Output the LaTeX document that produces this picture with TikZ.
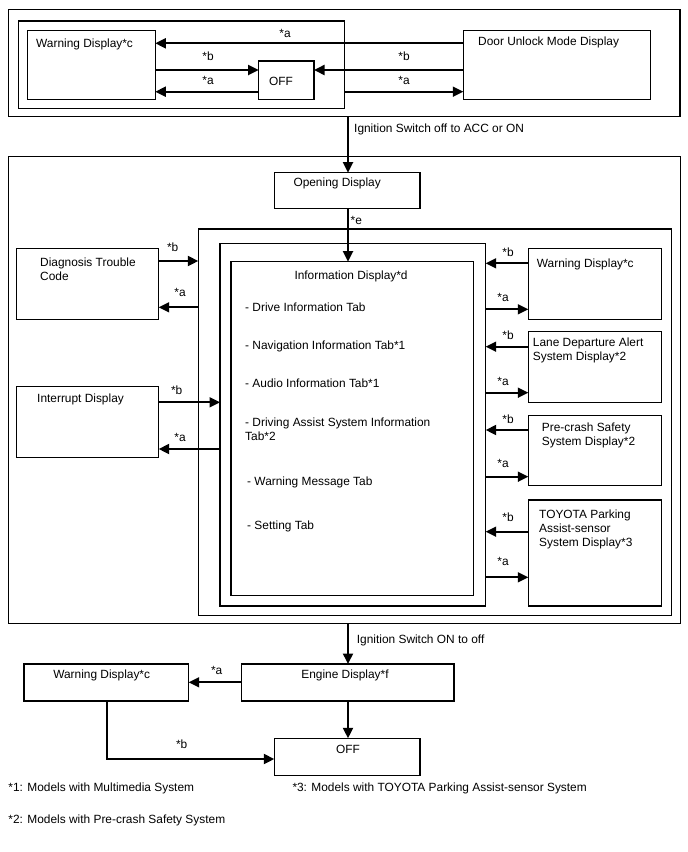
\documentclass[tikz,border=0pt]{standalone}
\usepackage{fontspec}
\setmainfont{Liberation Sans}
\usetikzlibrary{arrows.meta,positioning}
\newcommand\figfont{\fontsize{11.9pt}{14pt}\selectfont}

\begin{document}
\begin{tikzpicture}[x=1pt, y=-1pt, >={Triangle[length=10.5pt,width=10pt]},
  box/.style={draw, line width=1.2pt, inner sep=0pt, outer sep=0pt, anchor=north west},
  flow/.style={->, line width=1.9pt},
  txt/.style={inner sep=0pt, anchor=base west, font=\figfont},
  mtxt/.style={inner sep=0pt, anchor=north west, align=left, font=\figfont},
  lbl/.style={inner sep=0pt, anchor=base, font=\figfont}]

\useasboundingbox (0,0) rectangle (688,852);

% ------------------ TOP: door unlock group ------------------
\node[box, minimum width=671.7pt, minimum height=107.4pt] (topOuter) at (8.3,9.3) {};
\node[box, minimum width=326.4pt, minimum height=87.3pt] (topInner) at (18.3,21) {};
\node[box, minimum width=127.6pt, minimum height=68.6pt] (warnTop) at (27.7,30.7) {};
\node[box, minimum width=55.3pt, minimum height=38.3pt] (offTop) at (258.7,61) {};
\node[box, minimum width=187.4pt, minimum height=68.6pt] (doorBox) at (463.3,30.7) {};

\node[txt] (warnTopT) at (36,47) {Warning Display*c};
\node[txt] (offTopT) at (269,85.5) {OFF};
\node[txt] (doorT) at (478,45) {Door Unlock Mode Display};

\draw[flow] (doorBox.west |- 0,43.3) -- (warnTop.east |- 0,43.3);
\draw[flow] (warnTop.east |- 0,70) -- (offTop.west |- 0,70);
\draw[flow] (offTop.west |- 0,91.7) -- (warnTop.east |- 0,91.7);
\draw[flow] (doorBox.west |- 0,70) -- (offTop.east |- 0,70);
\draw[flow] (topInner.east |- 0,91.7) -- (doorBox.west |- 0,91.7);

\node[lbl] (topA1) at (285,37.3) {*a};
\node[lbl] (topB1) at (208,60.3) {*b};
\node[lbl] (topA2) at (208,84.3) {*a};
\node[lbl] (topB2) at (404,60.3) {*b};
\node[lbl] (topA3) at (404,84.3) {*a};

% transition into main display group
\node[txt] (ignOn) at (354,132.5) {Ignition Switch off to ACC or ON};

% ------------------ MIDDLE: main display group ------------------
\node[box, minimum width=672.4pt, minimum height=466.6pt] (mainOuter) at (8.3,156.7) {};
\node[box, minimum width=145.7pt, minimum height=35.6pt] (openBox) at (274.3,172.7) {};
\node[box, minimum width=473.4pt, minimum height=386.3pt] (levelA) at (198.3,229) {};
\node[box, minimum width=265.7pt, minimum height=362.7pt] (levelB) at (220,243.3) {};
\node[box, minimum width=242.3pt, minimum height=334pt] (infoBox) at (231,261.7) {};

\draw[flow] (topOuter.south -| 348,0) -- (openBox.north -| 348,0);
\draw[flow] (openBox.south -| 348,0) -- (infoBox.north -| 348,0);

\node[txt] (openT) at (293.3,186.6) {Opening Display};
\node[txt] (eT) at (350.5,224.3) {*e};
\node[txt] (infoT) at (294.3,279.3) {Information Display*d};

% tabs of the information display
\node[txt] (tabDrive) at (245,311) {- Drive Information Tab};
\node[txt] (tabNavi) at (245,349.3) {- Navigation Information Tab*1};
\node[txt] (tabAudio) at (245,387.6) {- Audio Information Tab*1};
\node[mtxt] (tabAssist) at (245,417.9) {- Driving Assist System Information\\Tab*2};
\node[txt] (tabWarn) at (247,485.3) {- Warning Message Tab};
\node[txt] (tabSet) at (247,529.3) {- Setting Tab};

% left side
\node[box, minimum width=142pt, minimum height=71pt] (dtcBox) at (16.7,248.3) {};
\node[mtxt] (dtcT) at (40,257.3) {Diagnosis Trouble\\Code};
\node[box, minimum width=142pt, minimum height=71pt] (intBox) at (16.7,386.7) {};
\node[txt] (intT) at (37,402.3) {Interrupt Display};

\draw[flow] (dtcBox.east |- 0,261) -- (levelA.west |- 0,261);
\draw[flow] (levelA.west |- 0,307.3) -- (dtcBox.east |- 0,307.3);
\draw[flow] (intBox.east |- 0,402.3) -- (levelB.west |- 0,402.3);
\draw[flow] (levelB.west |- 0,449) -- (intBox.east |- 0,449);

\node[lbl] (dtcB) at (172.7,251.3) {*b};
\node[lbl] (dtcA) at (180,296) {*a};
\node[lbl] (intB) at (176.7,394.3) {*b};
\node[lbl] (intA) at (180,441) {*a};

% right side
\node[box, minimum width=133.4pt, minimum height=71pt] (warnR) at (528.3,248.3) {};
\node[box, minimum width=133.4pt, minimum height=70.6pt] (laneBox) at (528.3,331.7) {};
\node[box, minimum width=133.4pt, minimum height=70pt] (pcsBox) at (528.3,415.7) {};
\node[box, minimum width=133.4pt, minimum height=106pt] (parkBox) at (528.3,500) {};

\node[txt] (warnRT) at (536.7,267) {Warning Display*c};
\node[mtxt] (laneT) at (532.7,337.3) {Lane Departure Alert\\System Display*2};
\node[mtxt] (pcsT) at (541.7,422.3) {Pre-crash Safety\\System Display*2};
\node[mtxt] (parkT) at (539,509.6) {TOYOTA Parking\\Assist-sensor\\System Display*3};

\foreach \b/\yb/\ya/\lb/\la in {warnR/263.3/309.3/256/301.6, laneBox/346.7/392.7/339.3/385,
    pcsBox/430/476.7/423.6/467.6, parkBox/531.7/577.3/521.6/565}{
  \draw[flow] (\b.west |- 0,\yb) -- (levelB.east |- 0,\yb);
  \draw[flow] (levelB.east |- 0,\ya) -- (\b.west |- 0,\ya);
  \node[lbl] (\b-b) at (508,\lb) {*b};
  \node[lbl] (\b-a) at (503,\la) {*a};
}

% ------------------ BOTTOM: switching off ------------------
\node[txt] (ignOff) at (356.7,643.3) {Ignition Switch ON to off};
\node[box, minimum width=164.7pt, minimum height=37pt] (warnBot) at (24,664) {};
\node[box, minimum width=212.3pt, minimum height=37pt] (engBox) at (241.7,664) {};
\node[box, minimum width=145.7pt, minimum height=37.4pt] (offBot) at (274.3,738.3) {};

\node[lbl] (warnBotT) at (101.7,678.3) {Warning Display*c};
\node[lbl] (engT) at (345,678.3) {Engine Display*f};
\node[lbl] (offBotT) at (348,753.6) {OFF};

\draw[flow] (mainOuter.south -| 348,0) -- (engBox.north -| 348,0);
\draw[flow] (engBox.west |- 0,682.3) -- (warnBot.east |- 0,682.3);
\draw[flow] (engBox.south -| 348,0) -- (offBot.north -| 348,0);
\draw[flow] (warnBot.south -| 106.7,0) |- (offBot.west |- 0,759);

\node[lbl] (botA) at (216.7,674.3) {*a};
\node[lbl] (botB) at (181.7,748.3) {*b};

% footnotes
\node[txt] (note1) at (8.3,791) {*1: Models with Multimedia System};
\node[txt] (note2) at (8.3,823.3) {*2: Models with Pre-crash Safety System};
\node[txt] (note3) at (292.3,791) {*3: Models with TOYOTA Parking Assist-sensor System};

\end{tikzpicture}
\end{document}
